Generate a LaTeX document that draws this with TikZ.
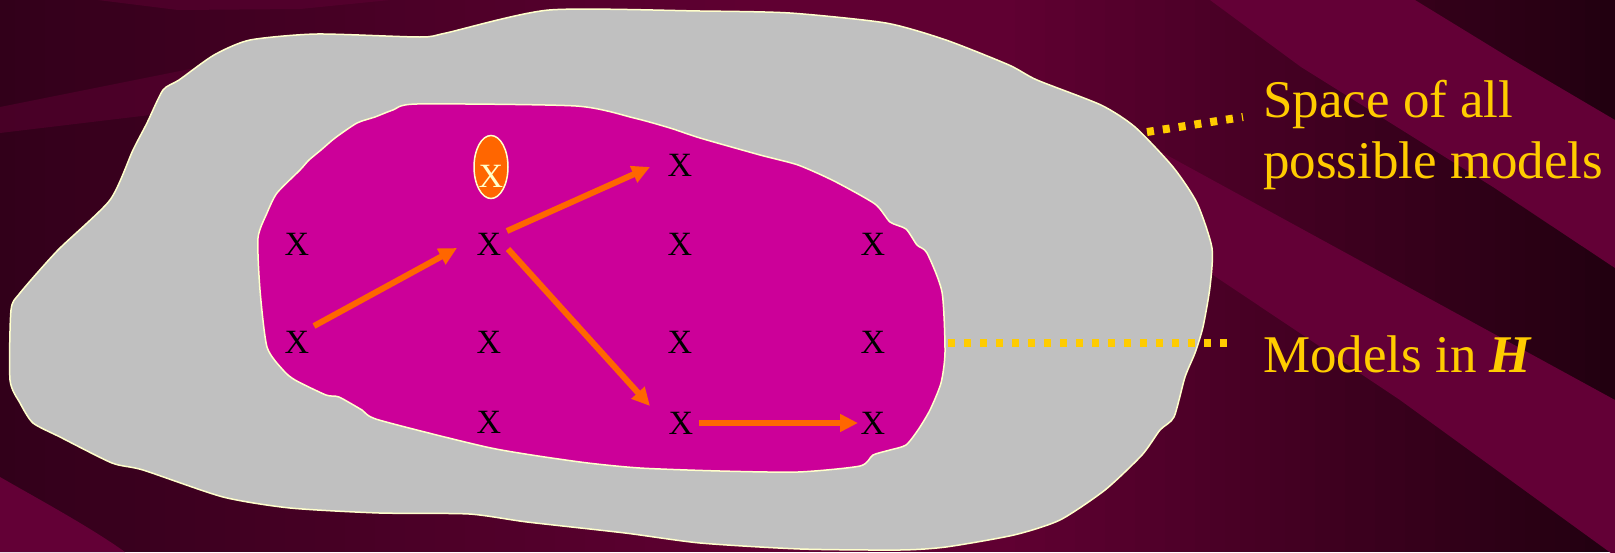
\documentclass[tikz,border=0pt]{standalone}
\usepackage{fontspec}
\setmainfont{Liberation Serif}
\usetikzlibrary{arrows.meta,shapes.geometric}
\definecolor{bgL}{HTML}{32001A}
\definecolor{bgM}{HTML}{600032}
\definecolor{bgR}{HTML}{220010}
\definecolor{stripe}{HTML}{630036}
\definecolor{blobgray}{HTML}{C0C0C0}
\definecolor{cream}{HTML}{FFFFCC}
\definecolor{hmag}{HTML}{CC0099}
\definecolor{orng}{HTML}{FF6600}
\definecolor{gold}{HTML}{FFCC00}
\tikzset{
  xmark/.style={font=\fontsize{34}{34}\selectfont, inner sep=0pt, text=black},
  arr/.style={draw=orng, line width=6pt, -{Triangle[length=18pt,width=17pt]}},
  dotline/.style={draw=gold, line width=8pt, dash pattern=on 7pt off 9pt},
  lbl/.style={font=\fontsize{53}{61}\selectfont, text=gold, inner sep=0pt, align=left},
  blob/.style={draw=cream, line width=1.5pt}
}
\begin{document}
\begin{tikzpicture}[x=1pt,y=-1pt]
\useasboundingbox (0,0) rectangle (1615,552);
% background: horizontal gradient built from thin strips
\foreach \i in {0,...,49} {
  \pgfmathsetmacro\xa{\i*15}
  \pgfmathsetmacro\xb{\xa+16}
  \pgfmathsetmacro\p{\i*2}
  \fill[bgM!\p!bgL] (\xa,0) rectangle (\xb,552);
}
\fill[bgM] (750,0) rectangle (1001,552);
\foreach \i in {0,...,40} {
  \pgfmathsetmacro\xa{1000+\i*15}
  \pgfmathsetmacro\xb{\xa+16}
  \pgfmathsetmacro\p{\i*2.5}
  \fill[bgR!\p!bgM] (\xa,0) rectangle (\xb,552);
}
\fill[stripe] (1210,0) -- (1301,67) -- (1493,187) -- (1615,268) -- (1615,120) -- (1513,60) -- (1415,0) -- cycle;
\fill[stripe] (1130,135) -- (1615,400) -- (1615,556) -- (1400,400) -- (1210,273) -- (1150,235) -- cycle;
\fill[stripe] (0,477) .. controls (40,500) and (90,527) .. (125,552) -- (0,552) -- cycle;
\fill[stripe, opacity=0.45] (0,107) -- (250,57) -- (250,103) -- (0,133) -- cycle;
\fill[stripe, opacity=0.45] (98,0) -- (178,10) -- (300,9) -- (390,0) -- cycle;
% outer space of models
\filldraw[blob, fill=blobgray] plot[smooth cycle, tension=0.4] coordinates {(549,10) (700,11) (790,13) (886,23) (946,40) (1009,65) (1037,80) (1101,105) (1135,127) (1173,167) (1197,203) (1212,248) (1210,287) (1203,327) (1195,353) (1185,377) (1174,417) (1160,430) (1142,455) (1105,490) (1060,520) (1014,535) (946,547) (900,550) (800,549) (700,543) (625,533) (527,522) (469,514) (379,513) (290,508) (223,497) (143,470) (112,463) (60,437) (33,423) (20,403) (10,380) (11,310) (20,293) (58,250) (110,200) (133,150) (147,123) (163,90) (179,80) (214,55) (250,40) (317,34) (420,37) (446,33)};
% inner H region
\filldraw[blob, fill=hmag] plot[smooth cycle, tension=0.4] coordinates {(417,104) (576,106) (634,118) (670,128) (700,138) (760,155) (798,165) (834,181) (875,204) (890,222) (906,229) (917,245) (927,253) (942,292) (945,352) (941,383) (930,410) (918,430) (906,445) (890,450) (873,455) (860,466) (798,472) (720,471) (640,468) (580,462) (491,448) (379,420) (362,410) (339,397) (326,395) (295,380) (283,370) (267,347) (260,290) (258,238) (267,213) (277,193) (300,170) (309,160) (321,150) (335,138) (357,123) (375,117) (393,110)};
% dotted leaders
\coordinate (s1) at (1147,132);
\coordinate (s2) at (1243,117);
\coordinate (h1) at (948,343);
\coordinate (h2) at (1236,343);
\draw[dotline] (s1) -- (s2);
\draw[dotline] (h1) -- (h2);
% highlighted model
\node[ellipse, draw=cream, fill=orng, line width=1.5pt, minimum width=34pt, minimum height=63pt, inner sep=0pt] (eo) at (491,167) {};
\node[xmark, text=cream] (x0) at (491,176) {X};
% grid of models
\node[xmark] (a1) at (297,244) {X};
\node[xmark] (a2) at (297,342) {X};
\node[xmark] (b1) at (489,244) {X};
\node[xmark] (b2) at (489,342) {X};
\node[xmark] (b3) at (489,422) {X};
\node[xmark] (c0) at (680,165) {X};
\node[xmark] (c1) at (680,244) {X};
\node[xmark] (c2) at (680,342) {X};
\node[xmark] (c3) at (681,423) {X};
\node[xmark] (d1) at (873,244) {X};
\node[xmark] (d2) at (873,342) {X};
\node[xmark] (d3) at (873,423) {X};
% search path
\draw[arr] ([shift={(17,-16)}]a2.center) -- ([shift={(-32,4)}]b1.center);
\draw[arr] ([shift={(18,-13)}]b1.center) -- ([shift={(-30,2)}]c0.center);
\draw[arr] ([shift={(19,5)}]b1.center) -- ([shift={(-31,-17)}]c3.center);
\draw[arr] ([shift={(18,0)}]c3.center) -- ([shift={(-15,0)}]d3.center);
% labels
\node[lbl, anchor=base west] (lab1) at (1263,178) {Space of all\\possible models};
\node[lbl, anchor=base west] (lab2) at (1263,372) {Models in \textbf{\textit{H}}};
\end{tikzpicture}
\end{document}
